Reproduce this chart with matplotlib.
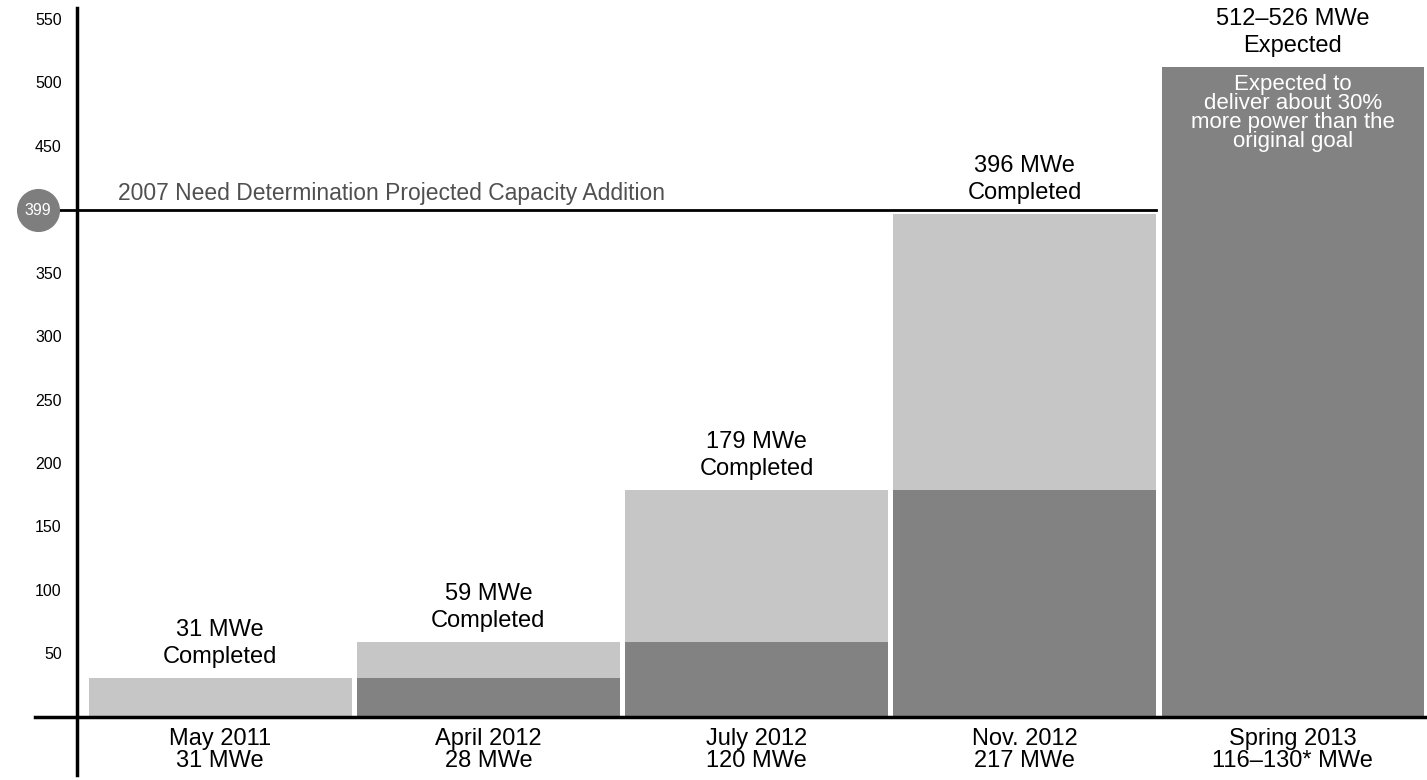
import matplotlib
matplotlib.use('Agg')
import matplotlib.pyplot as plt
import matplotlib.transforms as mtransforms

plt.rcParams['font.family'] = ['Liberation Sans', 'DejaVu Sans']

# capacity milestones (MWe)
dates = ['May 2011', 'April 2012', 'July 2012', 'Nov. 2012', 'Spring 2013']
added = ['31 MWe', '28 MWe', '120 MWe', '217 MWe', '116\u2013130* MWe']
prior_totals = [0, 31, 59, 179]
completed_totals = [31, 59, 179, 396]
expected_low = 512
expected_high = 526
need_determination = 399
yticks = [50, 100, 150, 200, 250, 300, 350, 450, 500, 550]
goal_note = 'Expected to\ndeliver about 30%\nmore power than the\noriginal goal'

light = '#c6c6c6'
dark = '#828282'

fig = plt.figure(figsize=(14.27, 7.80), dpi=100)
ax = fig.add_axes([77 / 1427, 5 / 780, 1350 / 1427, 775 / 780])
x0, x1 = -0.534, 4.5
ax.set_xlim(x0, x1)
ax.set_ylim(-45.7, 564.6)

w = 0.98
n_done = len(completed_totals)
xs = list(range(n_done))
ax.bar(xs, prior_totals, width=w, color=dark, linewidth=0)
ax.bar(xs, [t - p for t, p in zip(completed_totals, prior_totals)],
       bottom=prior_totals, width=w, color=light, linewidth=0)
ax.bar([n_done], [expected_low], width=w, color=dark, linewidth=0)

for x, t in zip(xs, completed_totals):
    ax.annotate(f'{t} MWe\nCompleted', (x, t), xytext=(0, 7),
                textcoords='offset points', ha='center', va='bottom',
                fontsize=17, linespacing=1.3)
ax.annotate(f'{expected_low}\u2013{expected_high} MWe\nExpected',
            (n_done, expected_low), xytext=(0, 7), textcoords='offset points',
            ha='center', va='bottom', fontsize=17, linespacing=1.3)
ax.annotate(goal_note, (n_done, expected_low), xytext=(0, -5),
            textcoords='offset points', ha='center', va='top',
            fontsize=16, color='white', linespacing=0.88)

# 2007 need determination line and its marker
trans = mtransforms.blended_transform_factory(ax.transAxes, ax.transData)
ax.plot([x0, 3 + w / 2], [need_determination] * 2, color='black', lw=2,
        zorder=3)
ax.plot([-0.015, 0], [need_determination] * 2, color='black', lw=2,
        transform=trans, clip_on=False, zorder=3)
ax.text(-0.381, need_determination + 4,
        '2007 Need Determination Projected Capacity Addition',
        fontsize=16.5, color='#505050', va='bottom', ha='left')
ax.plot([-0.029], [need_determination], 'o', ms=30, color='#7e7e7e',
        transform=trans, clip_on=False, zorder=4)
ax.text(-0.029, need_determination, str(need_determination), transform=trans,
        ha='center', va='center', fontsize=11.5, color='white', zorder=5)

# axes lines
ax.plot([-0.031, 1], [0, 0], color='black', lw=2.5, transform=trans,
        clip_on=False, zorder=3)
for s in ['top', 'right', 'bottom']:
    ax.spines[s].set_visible(False)
ax.spines['left'].set_linewidth(2.5)
ax.spines['left'].set_bounds(-45.7, 558)

ax.set_yticks(yticks)
ax.set_yticklabels([str(v) for v in yticks], fontsize=11.5)
ax.tick_params(axis='y', length=0, pad=11)
ax.set_xticks([])

for i, (d, a) in enumerate(zip(dates, added)):
    ax.text(i, -9, f'{d}\n{a}', ha='center', va='top', fontsize=17,
            linespacing=1.0)

fig.savefig('out.png', dpi=100)
